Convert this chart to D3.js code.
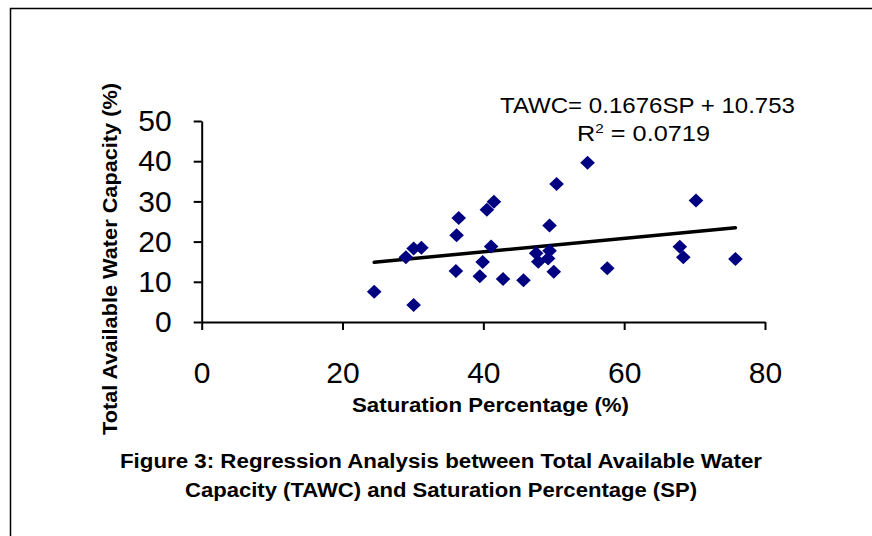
<!DOCTYPE html>
<html>
<head>
<meta charset="utf-8">
<script src="https://cdn.jsdelivr.net/npm/d3@7"></script>
<style>
  html, body { margin: 0; padding: 0; background: #fff; }
  svg { display: block; }
</style>
</head>
<body>
<svg id="chart" width="872" height="536"></svg>
<script>
// Saturation Percentage (SP, %)
const spValues = [24.5, 30.1, 29.0, 30.1, 31.2, 36.5, 36.2, 36.1, 39.9, 39.5, 40.5, 41.5, 41.1, 42.8,
                  45.7, 47.5, 47.8, 49.4, 49.2, 49.4, 50.0, 50.4, 54.8, 57.6, 70.2, 67.9, 68.4, 75.8];
// Total Available Water Capacity (TAWC, %)
const tawcValues = [7.5, 4.2, 16.1, 18.3, 18.5, 25.9, 21.6, 12.7, 14.9, 11.4, 27.9, 29.9, 18.8, 10.7,
                    10.4, 17.1, 15.0, 17.7, 15.8, 24.0, 12.5, 34.3, 39.6, 13.4, 30.2, 18.7, 16.1, 15.7];
const xTicks = [0, 20, 40, 60, 80];
const yTicks = [0, 10, 20, 30, 40, 50];
const trendSlope = 0.1676;
const trendIntercept = 10.753;
const equationText = "TAWC= 0.1676SP + 10.753";
const r2Value = "0.0719";
const xTitle = "Saturation Percentage (%)";
const yTitle = "Total Available Water Capacity (%)";
const captionLines = ["Figure 3: Regression Analysis between Total Available Water",
                      "Capacity (TAWC) and Saturation Percentage (SP)"];

const svg = d3.select("#chart");
const FONT = "'Liberation Sans', Arial, sans-serif";

// frame
svg.append("rect")
  .attr("x", 10.5).attr("y", 8.5)
  .attr("width", 900).attr("height", 600)
  .attr("fill", "none").attr("stroke", "#000").attr("stroke-width", 1.5);

const x = d3.scaleLinear().domain([0, 80]).range([201.7, 765]);
const y = d3.scaleLinear().domain([0, 50]).range([322, 121]);

// y axis
const gy = svg.append("g").attr("transform", `translate(${x(0)},0)`)
  .call(d3.axisLeft(y).tickValues(yTicks).tickSize(8).tickPadding(22).tickSizeOuter(0));
// x axis
const gx = svg.append("g").attr("transform", `translate(0,${y(0)})`)
  .call(d3.axisBottom(x).tickValues(xTicks).tickSize(8).tickPadding(31.5).tickSizeOuter(0));

[gx, gy].forEach(g => {
  g.select(".domain").attr("stroke", "#000").attr("stroke-width", 2);
  g.selectAll(".tick line").attr("stroke", "#000").attr("stroke-width", 2);
  g.selectAll(".tick text").attr("fill", "#000")
    .style("font-family", FONT).style("font-size", "30px");
});

// trend line
const xMin = d3.min(spValues), xMax = d3.max(spValues);
svg.append("line")
  .attr("x1", x(xMin)).attr("y1", y(trendSlope * xMin + trendIntercept))
  .attr("x2", x(xMax)).attr("y2", y(trendSlope * xMax + trendIntercept))
  .attr("stroke", "#000").attr("stroke-width", 3.5).attr("stroke-linecap", "round");

// points (diamonds)
const hw = 7.3, hh = 7;
const diamond = `M0,${-hh}L${hw},0L0,${hh}L${-hw},0Z`;
svg.append("g").selectAll("path")
  .data(spValues.map((v, i) => [v, tawcValues[i]]))
  .join("path")
  .attr("d", diamond)
  .attr("transform", d => `translate(${x(d[0])},${y(d[1])})`)
  .attr("fill", "#000080");

// equation
svg.append("text")
  .attr("x", 500).attr("y", 113)
  .attr("textLength", 295).attr("lengthAdjust", "spacingAndGlyphs")
  .style("font-family", FONT).style("font-size", "21.5px")
  .text(equationText);
const r2 = svg.append("text")
  .attr("x", 577).attr("y", 141)
  .style("font-family", FONT).style("font-size", "21.5px");
r2.append("tspan").text("R");
r2.append("tspan").attr("dy", -8).style("font-size", "13px").text("2");
r2.append("tspan").attr("dy", 8).text(" = " + r2Value);
// stretch R² line to reference width
const r2w = r2.node().getComputedTextLength();
r2.attr("transform", `translate(577,0) scale(${133 / r2w},1) translate(-577,0)`);

// axis titles
svg.append("text")
  .attr("x", 352).attr("y", 411.5)
  .attr("textLength", 277).attr("lengthAdjust", "spacingAndGlyphs")
  .style("font-family", FONT).style("font-size", "20px").style("font-weight", "bold")
  .text(xTitle);
svg.append("text")
  .attr("transform", "translate(116.5,435) rotate(-90)")
  .attr("textLength", 352).attr("lengthAdjust", "spacingAndGlyphs")
  .style("font-family", FONT).style("font-size", "20px").style("font-weight", "bold")
  .text(yTitle);

// caption
const capStart = [120, 185], capLen = [642, 512];
captionLines.forEach((t, i) => {
  svg.append("text")
    .attr("x", capStart[i]).attr("y", 467.5 + i * 29)
    .attr("textLength", capLen[i]).attr("lengthAdjust", "spacingAndGlyphs")
    .style("font-family", FONT).style("font-size", "20px").style("font-weight", "bold")
    .text(t);
});
</script>
</body>
</html>
